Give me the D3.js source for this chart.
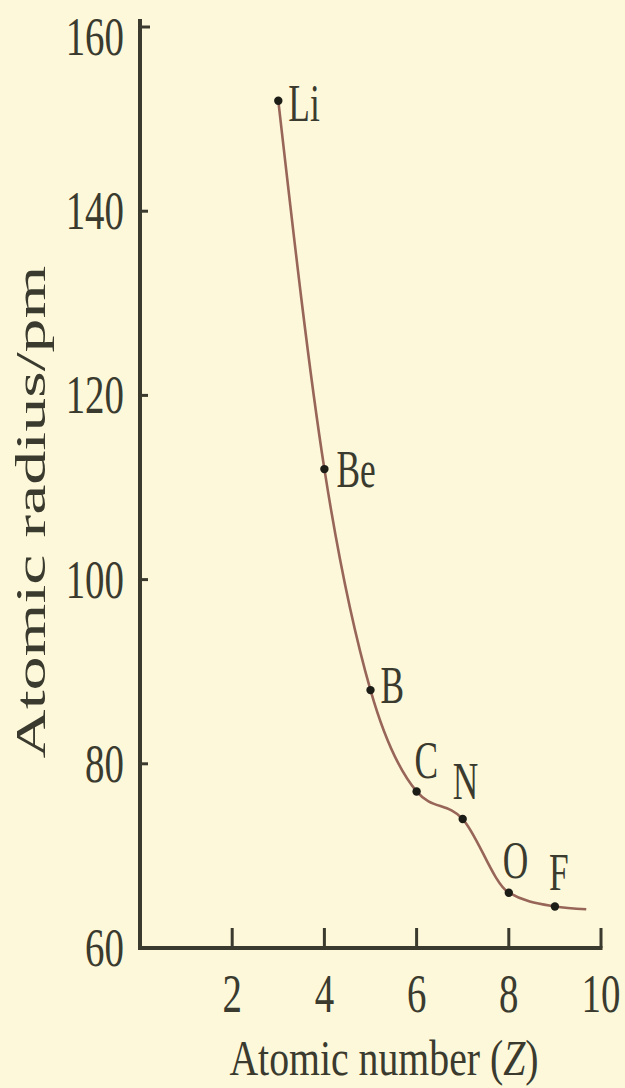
<!DOCTYPE html>
<html>
<head>
<meta charset="utf-8">
<script src="https://cdn.jsdelivr.net/npm/d3@7"></script>
<style>
  html, body { margin: 0; padding: 0; background: #fdf8da; }
  svg { display: block; }
</style>
</head>
<body>
<script>
// ---- data ----
const elements = ["Li", "Be", "B", "C", "N", "O", "F"];
const atomicNumbers = [3, 4, 5, 6, 7, 8, 9];
const radii = [152, 112, 88, 77, 74, 66, 64.5];
const curveEndZ = [9.68];
const curveEndR = [64.2];
const yTicks = [60, 80, 100, 120, 140, 160];
const xTicks = [2, 4, 6, 8, 10];
const xLabelMain = "Atomic number (";
const xLabelVar = "Z";
const xLabelClose = ")";
const yLabel = "Atomic radius/pm";

// ---- layout / style ----
const W = 625, H = 1088;
const ink = "#3a3b2e";
const curveColor = "#986559";
const serif = "'Liberation Serif', 'DejaVu Serif', serif";
// label offsets (px) relative to the point, left edge / baseline
const labelOffsets = {
  Li: [10, 20], Be: [12, 18], B: [10, 13], C: [-2, -13],
  N: [-10, -20], O: [-6, -15], F: [-6, -17]
};

const svg = d3.select("body").append("svg")
  .attr("width", W).attr("height", H);

svg.append("rect").attr("width", W).attr("height", H).attr("fill", "#fdf8da");

const x = d3.scaleLinear().domain([0, 10]).range([140, 601]);
const y = d3.scaleLinear().domain([60, 160]).range([948, 27]);

const g = svg.append("g");

// axes lines
g.append("line")
  .attr("x1", x(0)).attr("x2", x(0))
  .attr("y1", y(60) + 2).attr("y2", y(160) - 8)
  .attr("stroke", ink).attr("stroke-width", 4);
g.append("line")
  .attr("x1", x(0) - 2).attr("x2", x(10) + 1.5)
  .attr("y1", y(60)).attr("y2", y(60))
  .attr("stroke", ink).attr("stroke-width", 4);

// y ticks (pointing right)
g.selectAll(".yt").data(yTicks.filter(d => d > 60)).enter().append("line")
  .attr("x1", x(0)).attr("x2", d => x(0) + (d === 160 ? 10 : 8))
  .attr("y1", d => y(d)).attr("y2", d => y(d))
  .attr("stroke", ink).attr("stroke-width", 3);

// x ticks (pointing up)
g.selectAll(".xt").data(xTicks).enter().append("line")
  .attr("x1", d => x(d)).attr("x2", d => x(d))
  .attr("y1", y(60)).attr("y2", y(60) - 20)
  .attr("stroke", ink).attr("stroke-width", 3);

// y tick labels
g.selectAll(".yl").data(yTicks).enter().append("text")
  .attr("transform", d => `translate(124,${y(d) + (d === 160 ? 28 : 18)}) scale(0.72,1)`)
  .attr("text-anchor", "end")
  .attr("font-family", serif).attr("font-size", 54)
  .attr("fill", ink)
  .text(d => d);

// x tick labels
g.selectAll(".xl").data(xTicks).enter().append("text")
  .attr("transform", d => `translate(${x(d)},1012) scale(0.72,1)`)
  .attr("text-anchor", "middle")
  .attr("font-family", serif).attr("font-size", 54)
  .attr("fill", ink)
  .text(d => d);

// axis titles
const xt = g.append("text")
  .attr("transform", "translate(384,1075) scale(0.78,1)")
  .attr("text-anchor", "middle")
  .attr("font-family", serif).attr("font-size", 51)
  .attr("fill", ink);
xt.append("tspan").text(xLabelMain);
xt.append("tspan").attr("font-style", "italic").text(xLabelVar);
xt.append("tspan").text(xLabelClose);

g.append("text")
  .attr("transform", "translate(45,512) rotate(-90) scale(1,0.62)")
  .attr("text-anchor", "middle")
  .attr("font-family", serif).attr("font-size", 68)
  .attr("fill", ink)
  .text(yLabel);

// curve
const pts = atomicNumbers.map((z, i) => ({ z, r: radii[i], el: elements[i] }));
const curvePts = pts.concat(curveEndZ.map((z, i) => ({ z, r: curveEndR[i] })));
const line = d3.line()
  .x(d => x(d.z)).y(d => y(d.r))
  .curve(d3.curveMonotoneX);
g.append("path")
  .attr("d", line(curvePts))
  .attr("fill", "none")
  .attr("stroke", curveColor)
  .attr("stroke-width", 2.6);

// points
g.selectAll(".pt").data(pts).enter().append("circle")
  .attr("cx", d => x(d.z)).attr("cy", d => y(d.r))
  .attr("r", 4.2).attr("fill", "#1d1d18");

// point labels
g.selectAll(".pl").data(pts).enter().append("text")
  .attr("transform", d => `translate(${x(d.z) + labelOffsets[d.el][0]},${y(d.r) + labelOffsets[d.el][1]}) scale(0.68,1)`)
  .attr("font-family", serif).attr("font-size", 52)
  .attr("fill", ink)
  .text(d => d.el);
</script>
</body>
</html>
